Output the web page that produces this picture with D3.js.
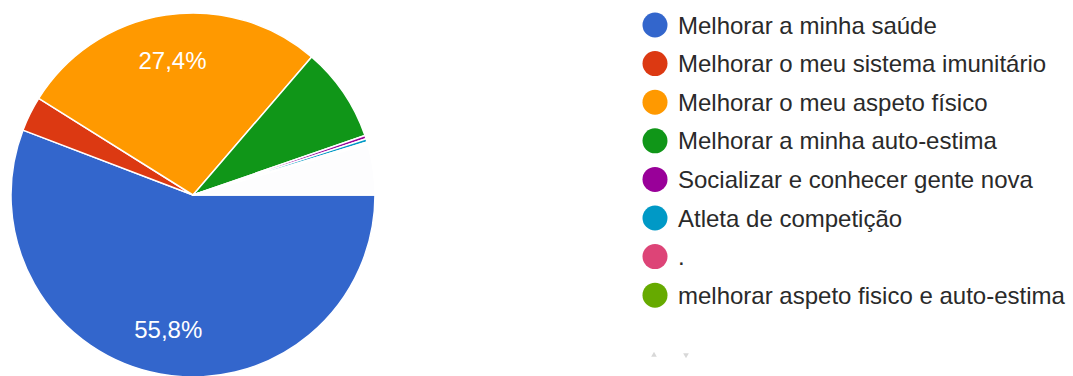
<!DOCTYPE html>
<html>
<head>
<meta charset="utf-8">
<script src="https://cdn.jsdelivr.net/npm/d3@7/dist/d3.min.js"></script>
<style>
  html, body { margin: 0; padding: 0; background: #ffffff; }
  svg { display: block; }
  text { font-family: "Liberation Sans", Arial, sans-serif; }
</style>
</head>
<body>
<svg id="chart" width="1073" height="376"></svg>
<script>
// Motivações para a prática de exercício (percentagem de respostas)
const categories = [
  "Melhorar a minha saúde",
  "Melhorar o meu sistema imunitário",
  "Melhorar o meu aspeto físico",
  "Melhorar a minha auto-estima",
  "Socializar e conhecer gente nova",
  "Atleta de competição",
  ".",
  "melhorar aspeto fisico e auto-estima",
  "Outras respostas"
];
const values = [55.8, 3.1, 27.4, 8.4, 0.3, 0.3, 0.1, 0.1, 4.5];
const colors = ["#3366cc", "#dc3912", "#ff9900", "#109618", "#990099",
                "#0099c6", "#dd4477", "#66aa00", "#fdfdfe"];
// Only the first page of the legend is shown
const legendCount = 8;
// Percentages that receive a label inside their slice
const labelMin = 10;

const svg = d3.select("#chart");
const cx = 193, cy = 195, r = 182;

const data = categories.map((c, i) => ({ name: c, value: values[i], color: colors[i] }));

const pie = d3.pie()
  .sort(null)
  .value(d => d.value)
  .startAngle(Math.PI / 2)
  .endAngle(Math.PI / 2 + 2 * Math.PI);

const arc = d3.arc().innerRadius(0).outerRadius(r);
const labelArc = d3.arc().innerRadius(r * 0.75).outerRadius(r * 0.75);

const g = svg.append("g").attr("transform", `translate(${cx},${cy})`);
const arcs = pie(data);

g.selectAll("path.slice")
  .data(arcs)
  .join("path")
  .attr("class", "slice")
  .attr("d", arc)
  .attr("fill", d => d.data.color)
  .attr("stroke", "#ffffff")
  .attr("stroke-width", 1.5)
  .attr("stroke-linejoin", "round");

g.selectAll("text.pct")
  .data(arcs.filter(d => d.data.value >= labelMin))
  .join("text")
  .attr("class", "pct")
  .attr("transform", d => `translate(${labelArc.centroid(d)})`)
  .attr("text-anchor", "middle")
  .attr("dy", "0.36em")
  .attr("fill", "#ffffff")
  .attr("font-size", 24)
  .text(d => d3.format(".1f")(d.data.value).replace(".", ",") + "%");

// Legend
const legendX = 655, legendY0 = 25, legendStep = 38.6;
const legend = svg.append("g");
const rows = legend.selectAll("g.row")
  .data(data.slice(0, legendCount))
  .join("g")
  .attr("class", "row")
  .attr("transform", (d, i) => `translate(${legendX},${legendY0 + i * legendStep})`);

rows.append("circle")
  .attr("r", 12.5)
  .attr("fill", d => d.color);

rows.append("text")
  .attr("x", 23)
  .attr("dy", "0.36em")
  .attr("font-size", 24)
  .attr("fill", "#2a2a2a")
  .text(d => d.name);

// Faint legend pager
const pager = svg.append("g").attr("fill", "#d8d8d8");
pager.append("path").attr("d", d3.symbol(d3.symbolTriangle, 14)()).attr("transform", "translate(654,355)");
pager.append("path").attr("d", d3.symbol(d3.symbolTriangle, 14)()).attr("transform", "translate(686,355) rotate(180)");
</script>
</body>
</html>
